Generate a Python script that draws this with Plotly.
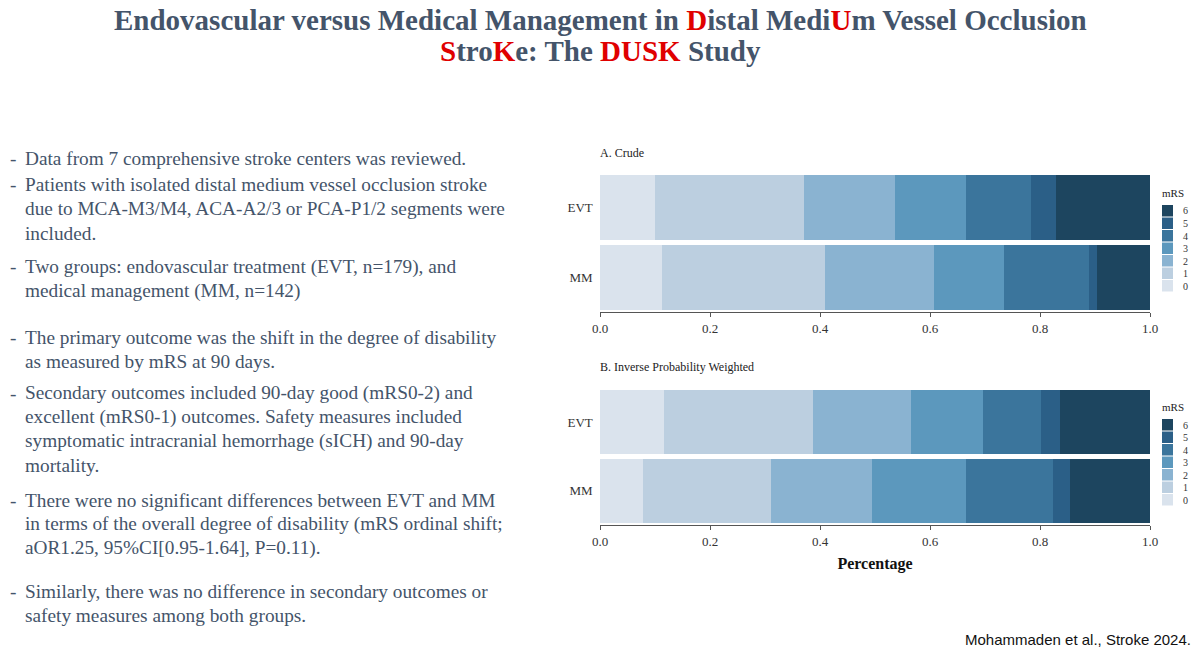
import plotly.graph_objects as go

groups = ["EVT", "MM"]
mrs_levels = ["0", "1", "2", "3", "4", "5", "6"]
# proportions per mRS level, [EVT, MM]
crude = {
    "0": [0.100, 0.113], "1": [0.270, 0.296], "2": [0.167, 0.198],
    "3": [0.129, 0.127], "4": [0.117, 0.155], "5": [0.046, 0.015], "6": [0.171, 0.096],
}
ipw = {
    "0": [0.117, 0.079], "1": [0.270, 0.231], "2": [0.178, 0.185],
    "3": [0.131, 0.170], "4": [0.106, 0.159], "5": [0.035, 0.030], "6": [0.163, 0.146],
}
colors = ["#dae3ed", "#bccfe0", "#8ab3d1", "#5c98bd", "#3b759c", "#2b5f87", "#1d455f"]
x_ticks = [0.0, 0.2, 0.4, 0.6, 0.8, 1.0]

fig = go.Figure()
for i, lv in enumerate(mrs_levels):
    fig.add_trace(go.Bar(y=groups, x=crude[lv], orientation="h", name=lv,
                         marker=dict(color=colors[i], line=dict(width=0)),
                         xaxis="x", yaxis="y", showlegend=False))
for i, lv in enumerate(mrs_levels):
    fig.add_trace(go.Bar(y=groups, x=ipw[lv], orientation="h", name=lv,
                         marker=dict(color=colors[i], line=dict(width=0)),
                         xaxis="x2", yaxis="y2", showlegend=False))

W, H = 1200, 653
def py(p):
    return 1 - p / H
def px(p):
    return p / W

axfont = dict(family="Liberation Serif", size=13, color="#333333")
common_x = dict(range=[0, 1], tickvals=x_ticks, tickformat=".1f", showgrid=False, zeroline=False,
                showline=True, linecolor="#555555", ticks="outside", ticklen=4, tickcolor="#555555",
                tickfont=axfont)
common_y = dict(autorange="reversed", showgrid=False, zeroline=False, showline=False,
                ticks="", tickfont=axfont, ticksuffix="  ")

fig.update_layout(
    width=W, height=H, barmode="stack", bargap=0.06,
    paper_bgcolor="white", plot_bgcolor="white",
    margin=dict(l=0, r=0, t=0, b=0, autoexpand=False),
    xaxis=dict(domain=[px(600), px(1150)], anchor="y", **common_x),
    yaxis=dict(domain=[py(312), py(173)], anchor="x", **common_y),
    xaxis2=dict(domain=[px(600), px(1150)], anchor="y2",
                title=dict(text="<b>Percentage</b>", font=dict(family="Liberation Serif", size=16, color="#111111"), standoff=10),
                **common_x),
    yaxis2=dict(domain=[py(525), py(388)], anchor="x2", **common_y),
    showlegend=False,
)

ann = []
shapes = []
title_font = dict(family="Liberation Serif", size=29, color="#44546a")
R = "<span style='color:#e00000'>%s</span>"
ann.append(dict(text="<b>Endovascular versus Medical Management in " + R % "D" + "istal Medi" + R % "U" + "m Vessel Occlusion</b>",
                x=0.5, y=py(20), xref="paper", yref="paper", showarrow=False, font=title_font, yanchor="middle"))
ann.append(dict(text="<b>" + R % "S" + "tro" + R % "K" + "e: The " + R % "DUSK" + " Study</b>",
                x=0.5, y=py(51), xref="paper", yref="paper", showarrow=False, font=title_font, yanchor="middle"))

sfont = dict(family="Liberation Serif", size=12, color="#222222")
ann.append(dict(text="A. Crude", x=px(598), y=py(153), xref="paper", yref="paper", showarrow=False,
                xanchor="left", yanchor="middle", font=sfont))
ann.append(dict(text="B. Inverse Probability Weighted", x=px(598), y=py(367), xref="paper", yref="paper",
                showarrow=False, xanchor="left", yanchor="middle", font=sfont))

# manual legends
lfont = dict(family="Liberation Serif", size=10, color="#333333")
for top in (205, 419):
    ann.append(dict(text="mRS", x=px(1160), y=py(top - 4), xref="paper", yref="paper", showarrow=False,
                    xanchor="left", yanchor="bottom", font=dict(family="Liberation Serif", size=11, color="#222222")))
    for k, lv in enumerate(reversed(mrs_levels)):
        c = colors[len(mrs_levels) - 1 - k]
        y0 = top + 12.5 * k
        shapes.append(dict(type="rect", xref="paper", yref="paper", x0=px(1162), x1=px(1173),
                           y0=py(y0 + 11.5), y1=py(y0), fillcolor=c, line=dict(width=0)))
        ann.append(dict(text=lv, x=px(1181), y=py(y0 + 6), xref="paper", yref="paper", showarrow=False,
                        xanchor="left", yanchor="middle", font=lfont))

bullets = [
    (158, ["Data from 7 comprehensive stroke centers was reviewed."]),
    (185, ["Patients with isolated distal medium vessel occlusion stroke",
           "due to MCA-M3/M4, ACA-A2/3 or PCA-P1/2 segments were", "included."]),
    (267, ["Two groups: endovascular treatment (EVT, n=179), and", "medical management (MM, n=142)"]),
    (337, ["The primary outcome was the shift in the degree of disability", "as measured by mRS at 90 days."]),
    (393, ["Secondary outcomes included 90-day good (mRS0-2) and",
           "excellent (mRS0-1) outcomes. Safety measures included",
           "symptomatic intracranial hemorrhage (sICH) and 90-day", "mortality."]),
    (500, ["There were no significant differences between EVT and MM",
           "in terms of the overall degree of disability (mRS ordinal shift;",
           "aOR1.25, 95%CI[0.95-1.64], P=0.11)."]),
    (591, ["Similarly, there was no difference in secondary outcomes or",
           "safety measures among both groups."]),
]
bfont = dict(family="Liberation Serif", size=19.3, color="#44546a")
for y0, lines in bullets:
    ann.append(dict(text="-", x=px(8), y=py(y0), xref="paper", yref="paper", showarrow=False,
                    xanchor="left", yanchor="middle", font=bfont))
    for k, line in enumerate(lines):
        ann.append(dict(text=line, x=px(23), y=py(y0 + 24 * k), xref="paper", yref="paper", showarrow=False,
                        xanchor="left", yanchor="middle", font=bfont))

ann.append(dict(text="Mohammaden et al., Stroke 2024.", x=px(1193), y=py(639), xref="paper", yref="paper",
                showarrow=False, xanchor="right", yanchor="middle",
                font=dict(family="Liberation Sans", size=15, color="#111111")))
fig.update_layout(annotations=ann, shapes=shapes)
fig.write_html("out.html", config={"displayModeBar": False},
               post_script="document.body.style.margin='0';document.body.style.overflow='hidden';")
